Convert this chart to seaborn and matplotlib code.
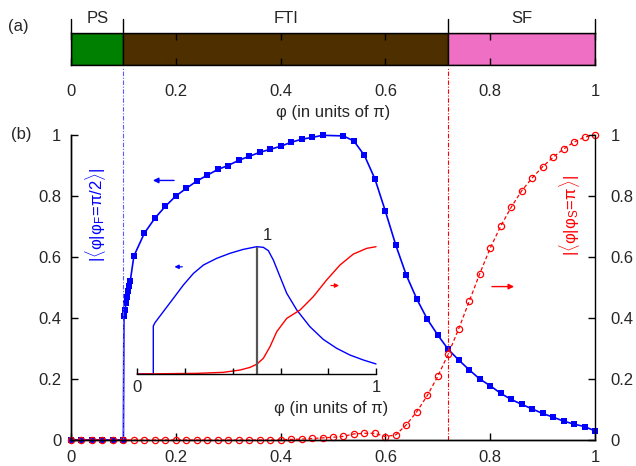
import numpy as np
import matplotlib
matplotlib.use('Agg')
import matplotlib.pyplot as plt
import seaborn as sns

# phase bar (a)
phase_names = ['PS', 'FTI', 'SF']
phase_edges = [0, 0.1, 0.72, 1]
phase_colors = ['#008000', '#4e3000', '#ef6fc4']

# main panel (b): blue squares, |<phi|phi_F=pi/2>|
phi_F = [0, 0.02, 0.04, 0.06, 0.08, 0.1, 0.101, 0.103, 0.105, 0.107, 0.109, 0.111, 0.113,
         0.12, 0.14, 0.16, 0.18, 0.2, 0.22, 0.24, 0.26, 0.28, 0.3, 0.32, 0.34, 0.36, 0.38,
         0.4, 0.42, 0.44, 0.46, 0.48, 0.52, 0.54, 0.56, 0.58, 0.6, 0.62, 0.64, 0.66, 0.68,
         0.7, 0.72, 0.74, 0.76, 0.78, 0.8, 0.82, 0.84, 0.86, 0.88, 0.9, 0.92, 0.94, 0.96,
         0.98, 1.0]
ov_F = [0, 0, 0, 0, 0, 0, 0.405, 0.425, 0.45, 0.47, 0.49, 0.505, 0.52,
        0.603, 0.678, 0.727, 0.766, 0.8, 0.825, 0.849, 0.868, 0.887, 0.9, 0.917, 0.93, 0.943, 0.953,
        0.963, 0.976, 0.986, 0.992, 0.999, 0.997, 0.98, 0.933, 0.856, 0.75, 0.638, 0.54, 0.462, 0.396,
        0.344, 0.297, 0.262, 0.23, 0.2, 0.178, 0.153, 0.133, 0.117, 0.102, 0.087, 0.075, 0.062, 0.052,
        0.044, 0.03]

# main panel (b): red circles, |<phi|phi_S=pi>|
phi_S = [round(0.02 * i, 2) for i in range(51)]
ov_S = [0] * 20 + [0.001, 0.002, 0.003, 0.005, 0.007, 0.009, 0.012, 0.02, 0.022, 0.022,
                   0.011, 0.017, 0.05, 0.093, 0.146, 0.209, 0.282, 0.365, 0.455, 0.545,
                   0.629, 0.701, 0.763, 0.817, 0.859, 0.896, 0.927, 0.954, 0.977, 0.993, 1.0]

# inset curves
ins_x_F = [0, 0.067, 0.067, 0.074, 0.109, 0.151, 0.193, 0.235, 0.277, 0.332, 0.388, 0.444,
           0.5, 0.528, 0.549, 0.57, 0.598, 0.626, 0.668, 0.723, 0.779, 0.835, 0.891, 0.947, 1.0]
ins_y_F = [0, 0, 0.377, 0.403, 0.49, 0.594, 0.699, 0.79, 0.856, 0.908, 0.948, 0.979,
           1.0, 0.995, 0.969, 0.895, 0.764, 0.634, 0.503, 0.372, 0.272, 0.202, 0.149, 0.11, 0.079]
ins_x_S = [0, 0.249, 0.36, 0.43, 0.472, 0.5, 0.528, 0.556, 0.584, 0.626, 0.682, 0.737,
           0.793, 0.849, 0.905, 0.961, 1.0]
ins_y_S = [0, 0.005, 0.013, 0.031, 0.052, 0.076, 0.123, 0.215, 0.332, 0.437, 0.503, 0.607,
           0.738, 0.856, 0.942, 0.987, 1.0]

ticks = [0, 0.2, 0.4, 0.6, 0.8, 1]
tick_labels = ['0', '0.2', '0.4', '0.6', '0.8', '1']

sns.set_style('white')
plt.rcParams['font.family'] = ['Liberation Sans', 'DejaVu Sans']
plt.rcParams['font.size'] = 12
plt.rcParams['mathtext.fontset'] = 'custom'
plt.rcParams['mathtext.rm'] = 'Liberation Sans'
plt.rcParams['mathtext.it'] = 'Liberation Sans'
plt.rcParams['axes.edgecolor'] = 'black'
plt.rcParams['axes.linewidth'] = 1.0
plt.rcParams['axes.axisbelow'] = False

W, H = 636, 466
fig = plt.figure(figsize=(W / 100, H / 100), dpi=100)
ax_top = fig.add_axes([71 / W, 1 - 65 / H, 524 / W, 32 / H])
ax = fig.add_axes([71 / W, 26 / H, 524 / W, 305 / H])
axr = ax.twinx()
ax_in = fig.add_axes([137.3 / W, 1 - 374 / H, 238.7 / W, 127.3 / H])

# ---- (a) phase bar ----
lefts = phase_edges[:-1]
widths = np.diff(phase_edges)
ax_top.barh(0, widths, left=lefts, height=1, color=phase_colors, edgecolor='black', linewidth=1.0)
ax_top.set_axisbelow(False)
ax_top.set_xlim(0, 1)
ax_top.set_ylim(-0.5, 0.5)
ax_top.set_yticks([])
ax_top.set_xticks(ticks)
ax_top.set_xticklabels(tick_labels)
ax_top.tick_params(axis='x', direction='in', top=True, bottom=True, length=5, width=1,
                   color='black', pad=14)
ax_top.set_xlabel('φ (in units of π)', labelpad=4)
for e in phase_edges:
    ax_top.plot([e, e], [0.5, 0.94], color='black', lw=1.0, clip_on=False)
for name, a, b in zip(phase_names, phase_edges[:-1], phase_edges[1:]):
    ax_top.text((a + b) / 2, 0.94, name, ha='center', va='center')

# ---- (b) main panel ----
sns.lineplot(x=phi_F, y=ov_F, ax=ax, color='blue', lw=1.2, marker='s', markersize=4.5,
             markeredgewidth=0, estimator=None, sort=False, clip_on=False)
sns.lineplot(x=phi_S, y=ov_S, ax=axr, color='red', lw=0.9, linestyle=(0, (3, 2)), marker='o',
             markersize=4.5, markerfacecolor='none', markeredgecolor='red', markeredgewidth=0.9,
             estimator=None, sort=False, clip_on=False)
for a in (ax, axr):
    a.set_xlim(0, 1)
    a.set_ylim(0, 1)
    a.set_yticks(ticks)
    a.set_yticklabels(tick_labels)
    a.spines['top'].set_visible(False)
ax.set_xticks(ticks)
ax.set_xticklabels(tick_labels)
ax.tick_params(axis='x', direction='in', bottom=True, length=5, width=1, color='black', pad=7)
ax.tick_params(axis='y', direction='in', left=True, length=5, width=1, color='black', pad=7)
axr.tick_params(axis='y', direction='in', right=True, length=5, width=1, color='black', pad=11)
ax.spines['right'].set_visible(False)

ax.axvline(phase_edges[1], ymin=0, ymax=1.223, clip_on=False, color='#5a5aff', lw=0.8,
           linestyle=(0, (4, 1.5, 1, 1.5)))
ax.axvline(phase_edges[2], ymin=0, ymax=1.223, clip_on=False, color='red', lw=0.8,
           linestyle=(0, (4, 1.5, 1, 1.5)))

ax.annotate('', xy=(0.151, 0.851), xytext=(0.202, 0.851),
            arrowprops=dict(arrowstyle='-|>', color='blue', lw=1, mutation_scale=8))
axr.annotate('', xy=(0.851, 0.503), xytext=(0.798, 0.503),
             arrowprops=dict(arrowstyle='-|>', color='red', lw=1, mutation_scale=8))

fig.text(95 / W, 1 - 215 / H, r'$|\langle\varphi|\varphi_{F}\!=\!\pi/2\rangle|$', rotation=90,
         ha='center', va='center', color='blue', fontsize=12)
fig.text(570 / W, 1 - 215 / H, r'$|\langle\varphi|\varphi_{S}\!=\!\pi\rangle|$', rotation=90,
         ha='center', va='center', color='red', fontsize=12)
fig.text(18 / W, 1 - 26 / H, '(a)', ha='center', va='center')
fig.text(21 / W, 1 - 135 / H, '(b)', ha='center', va='center')

# ---- inset ----
ax_in.patch.set_visible(False)
sns.lineplot(x=ins_x_F, y=ins_y_F, ax=ax_in, color='blue', lw=1.0, estimator=None, sort=False,
             clip_on=False)
sns.lineplot(x=ins_x_S, y=ins_y_S, ax=ax_in, color='red', lw=1.0, estimator=None, sort=False,
             clip_on=False)
ax_in.axvline(0.5, 0, 1, color='#555555', lw=1.6)
ax_in.set_xlim(0, 1)
ax_in.set_ylim(0, 1)
for s in ('left', 'right', 'top'):
    ax_in.spines[s].set_visible(False)
ax_in.set_yticks([])
ax_in.set_xticks(ticks)
ax_in.set_xticklabels(['0', '', '', '', '', '1'])
ax_in.tick_params(axis='x', direction='in', bottom=True, length=4, width=1, color='black', pad=4)
ax_in.text(0.543, 1.09, '1', ha='center', va='center')
ax_in.text(0.81, -0.274, 'φ (in units of π)', ha='center', va='center')
ax_in.annotate('', xy=(0.144, 0.842), xytext=(0.2, 0.842),
               arrowprops=dict(arrowstyle='-|>', color='blue', lw=0.9, mutation_scale=6))
ax_in.annotate('', xy=(0.857, 0.695), xytext=(0.8, 0.695),
               arrowprops=dict(arrowstyle='-|>', color='red', lw=0.9, mutation_scale=6))

fig.savefig('out.png', dpi=100)
